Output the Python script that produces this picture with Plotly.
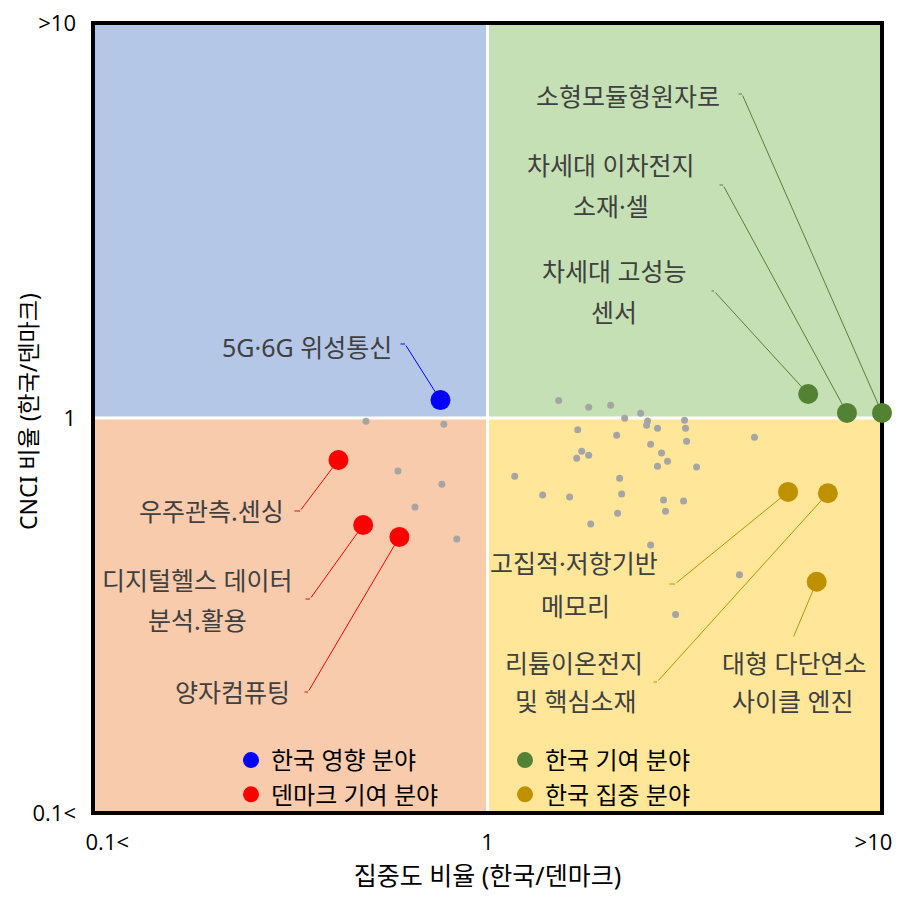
import numpy as np
import plotly.graph_objects as go

# ---------------- data ----------------
gray_x = [0.492, 0.775, 0.593, 0.766, 0.655, 0.836, 1.515, 1.805, 2.052, 2.227, 2.444, 2.546, 2.531, 2.698,
          3.158, 3.177, 1.693, 2.125, 3.196, 2.591, 4.751, 1.733, 1.805, 1.683, 2.762, 2.860, 2.698, 3.388,
          1.172, 2.162, 1.380, 1.615, 2.188, 2.794, 3.141, 2.827, 2.137, 1.826, 2.591, 4.352, 2.997]
gray_y = [0.981, 0.964, 0.734, 0.680, 0.595, 0.494, 1.108, 1.064, 1.077, 0.998, 1.028, 0.983, 0.958, 0.942,
          0.987, 0.942, 0.934, 0.904, 0.873, 0.858, 0.894, 0.824, 0.805, 0.791, 0.815, 0.777, 0.755, 0.751,
          0.712, 0.704, 0.638, 0.631, 0.642, 0.620, 0.616, 0.581, 0.574, 0.539, 0.477, 0.401, 0.318]

impact_names = ["5G·6G 위성통신"]
impact_x = [0.760]
impact_y = [1.11]

kr_contrib_names = ["차세대 고성능 센서", "차세대 이차전지 소재·셀", "소형모듈형원자로"]
kr_contrib_x = [6.50, 8.15, 10.0]
kr_contrib_y = [1.15, 1.03, 1.03]

dk_contrib_names = ["우주관측.센싱", "디지털헬스 데이터 분석.활용", "양자컴퓨팅"]
dk_contrib_x = [0.419, 0.484, 0.598]
dk_contrib_y = [0.783, 0.536, 0.500]

kr_focus_names = ["고집적·저항기반 메모리", "리튬이온전지 및 핵심소재", "대형 다단연소 사이클 엔진"]
kr_focus_x = [5.78, 7.29, 6.83]
kr_focus_y = [0.650, 0.645, 0.385]

legend_names = ["한국 영향 분야", "한국 기여 분야", "덴마크 기여 분야", "한국 집중 분야"]
x_tick_vals = [0.1, 1, 10]
x_tick_text = ["0.1<", "1", ">10"]
y_tick_vals = [0.1, 1, 10]
y_tick_text = ["0.1<", "1", ">10"]
x_title = "집중도 비율 (한국/덴마크)"
y_title = "CNCI 비율 (한국/덴마크)"

# ---------------- style ----------------
W_FIG, H_FIG = 908, 907
L, T, R, B = 93, 23, 26, 94
PW, PH = W_FIG - L - R, H_FIG - T - B
KFONT = "Noto Sans, Noto Sans CJK KR"
TFONT = "Open Sans"
LABEL_COLOR = "#404040"
LABEL_SIZE = 25
C_BLUE, C_RED, C_GREEN, C_GOLD, C_GRAY = "#0000FF", "#FF0000", "#548235", "#BF9000", "#A5A5A5"
NB = "\u00a0"
# the end labels of the x axis sit inside the plot edges, as in the original
x_tick_display = [NB * 5 + x_tick_text[0], x_tick_text[1], x_tick_text[2] + NB * 3]


def to_px(xv, yv):
    """pixel position of a data point on the log-log axes (range 0.1..10)"""
    px = L + (np.log10(xv) + 1) / 2 * PW
    py = T + (1 - np.log10(yv)) / 2 * PH
    return px, py


def paper(px, py):
    return (px - L) / PW, 1 - (py - T) / PH


fig = go.Figure()

fig.add_trace(go.Scatter(x=gray_x, y=gray_y, mode="markers", showlegend=False, hoverinfo="skip",
                         marker=dict(size=7, color=C_GRAY), cliponaxis=False))

series = [
    (legend_names[0], impact_x, impact_y, impact_names, C_BLUE),
    (legend_names[1], kr_contrib_x, kr_contrib_y, kr_contrib_names, C_GREEN),
    (legend_names[2], dk_contrib_x, dk_contrib_y, dk_contrib_names, C_RED),
    (legend_names[3], kr_focus_x, kr_focus_y, kr_focus_names, C_GOLD),
]
for name, xs, ys, names, col in series:
    fig.add_trace(go.Scatter(x=xs, y=ys, mode="markers", name=name, text=names,
                             hovertemplate="%{text}<br>%{x}, %{y}<extra></extra>",
                             marker=dict(size=20, color=col), cliponaxis=False))

# label layout: (point x, point y, color, [(text, cx, cy, anchor)], elbow (x_out, x_in, y))
label_specs = [
    (kr_contrib_x[2], kr_contrib_y[2], C_GREEN, [("소형모듈형원자로", 628, 96, "center")], (737, 742, 94)),
    (kr_contrib_x[1], kr_contrib_y[1], C_GREEN, [("차세대 이차전지", 611, 165, "center"),
                                                  ("소재·셀", 611, 206, "center")], (718, 723, 185)),
    (kr_contrib_x[0], kr_contrib_y[0], C_GREEN, [("차세대 고성능", 614, 271, "center"),
                                                  ("센서", 614, 312, "center")], (710, 714, 291)),
    (impact_x[0], impact_y[0], C_BLUE, [("5G·6G 위성통신", 394, 347, "right")], (399, 405, 344)),
    (dk_contrib_x[0], dk_contrib_y[0], C_RED, [("우주관측.센싱", 286, 511, "right")], (293, 300, 511)),
    (dk_contrib_x[1], dk_contrib_y[1], C_RED, [("디지털헬스 데이터", 197, 580, "center"),
                                                ("분석.활용", 197, 620, "center")], (304, 310, 599)),
    (dk_contrib_x[2], dk_contrib_y[2], C_RED, [("양자컴퓨팅", 292, 692, "right")], (303, 308, 692)),
    (kr_focus_x[0], kr_focus_y[0], C_GOLD, [("고집적·저항기반", 574, 563, "center"),
                                             ("메모리", 575, 606, "center")], (668, 675, 584)),
    (kr_focus_x[1], kr_focus_y[1], C_GOLD, [("리튬이온전지", 574, 663, "center"),
                                             ("및 핵심소재", 576, 701, "center")], (652, 657, 682)),
    (kr_focus_x[2], kr_focus_y[2], C_GOLD, [("대형 다단연소", 794, 663, "center"),
                                             ("사이클 엔진", 793, 701, "center")], (793, 793, 638)),
]

annotations = []
for xv, yv, col, texts, (x_out, x_in, ey) in label_specs:
    px, py = to_px(xv, yv)
    annotations.append(dict(x=np.log10(xv), y=np.log10(yv), xref="x", yref="y", text="",
                            showarrow=True, arrowhead=0, arrowwidth=1, arrowcolor=col,
                            ax=x_in - px, ay=ey - py, standoff=0, startstandoff=0))
    if x_out != x_in:
        annotations.append(dict(x=np.log10(xv), y=np.log10(yv), xref="x", yref="y", text="",
                                showarrow=True, arrowhead=0, arrowwidth=1, arrowcolor=col,
                                xshift=x_in - px, yshift=py - ey, ax=x_out - x_in, ay=0,
                                standoff=0, startstandoff=0))
    for txt, cx, cy, anc in texts:
        xp, yp = paper(cx, cy)
        annotations.append(dict(x=xp, y=yp, xref="paper", yref="paper", text=txt, showarrow=False,
                                xanchor=anc, yanchor="middle",
                                font=dict(family=KFONT, size=LABEL_SIZE, color=LABEL_COLOR)))

# y-axis title, placed as in the original
ytx, yty = paper(28, 412)
annotations.append(dict(x=ytx, y=yty, xref="paper", yref="paper", text=y_title, showarrow=False,
                        textangle=-90, xanchor="center", yanchor="middle",
                        font=dict(family=KFONT, size=23, color="black")))

shapes = [
    dict(type="rect", xref="paper", yref="paper", x0=0, x1=0.5, y0=0.5, y1=1, fillcolor="#B4C7E7", line_width=0, layer="below"),
    dict(type="rect", xref="paper", yref="paper", x0=0.5, x1=1, y0=0.5, y1=1, fillcolor="#C5E0B4", line_width=0, layer="below"),
    dict(type="rect", xref="paper", yref="paper", x0=0, x1=0.5, y0=0, y1=0.5, fillcolor="#F8CBAD", line_width=0, layer="below"),
    dict(type="rect", xref="paper", yref="paper", x0=0.5, x1=1, y0=0, y1=0.5, fillcolor="#FFE699", line_width=0, layer="below"),
    dict(type="line", xref="paper", yref="paper", x0=0.5, x1=0.5, y0=0, y1=1, line=dict(color="white", width=3), layer="below"),
    dict(type="line", xref="paper", yref="paper", x0=0, x1=1, y0=0.5, y1=0.5, line=dict(color="white", width=3), layer="below"),
    dict(type="rect", xref="paper", yref="paper", x0=0, x1=1, y0=0, y1=1, line=dict(color="black", width=4), layer="below"),
]

lx, ly = paper(231, 738)
fig.update_layout(
    width=W_FIG, height=H_FIG,
    margin=dict(l=L, r=R, t=T, b=B, autoexpand=False),
    paper_bgcolor="white", plot_bgcolor="white",
    font=dict(family=KFONT, color="black"),
    shapes=shapes, annotations=annotations,
    showlegend=True,
    legend=dict(orientation="h", x=lx, y=ly, xanchor="left", yanchor="top",
                entrywidth=229, entrywidthmode="pixels", bgcolor="rgba(0,0,0,0)",
                font=dict(family=KFONT, size=24, color="black"), itemsizing="trace",
                tracegroupgap=0),
    xaxis=dict(type="log", range=[-1, 1], showgrid=False, zeroline=False, showline=False,
               tickmode="array", tickvals=x_tick_vals, ticktext=x_tick_display, ticks="",
               ticklabelstandoff=14, ticklabeloverflow="allow",
               tickfont=dict(family=TFONT, size=22, color="black"),
               title=dict(text=x_title, font=dict(family=KFONT, size=25, color="black"), standoff=12)),
    yaxis=dict(type="log", range=[-1, 1], showgrid=False, zeroline=False, showline=False,
               tickmode="array", tickvals=y_tick_vals, ticktext=y_tick_text, ticks="",
               ticklabelstandoff=16, ticklabeloverflow="allow",
               tickfont=dict(family=TFONT, size=22, color="black")),
)

fig.write_html("out.html", post_script="document.body.style.margin='0';",
               config={"displayModeBar": False})
